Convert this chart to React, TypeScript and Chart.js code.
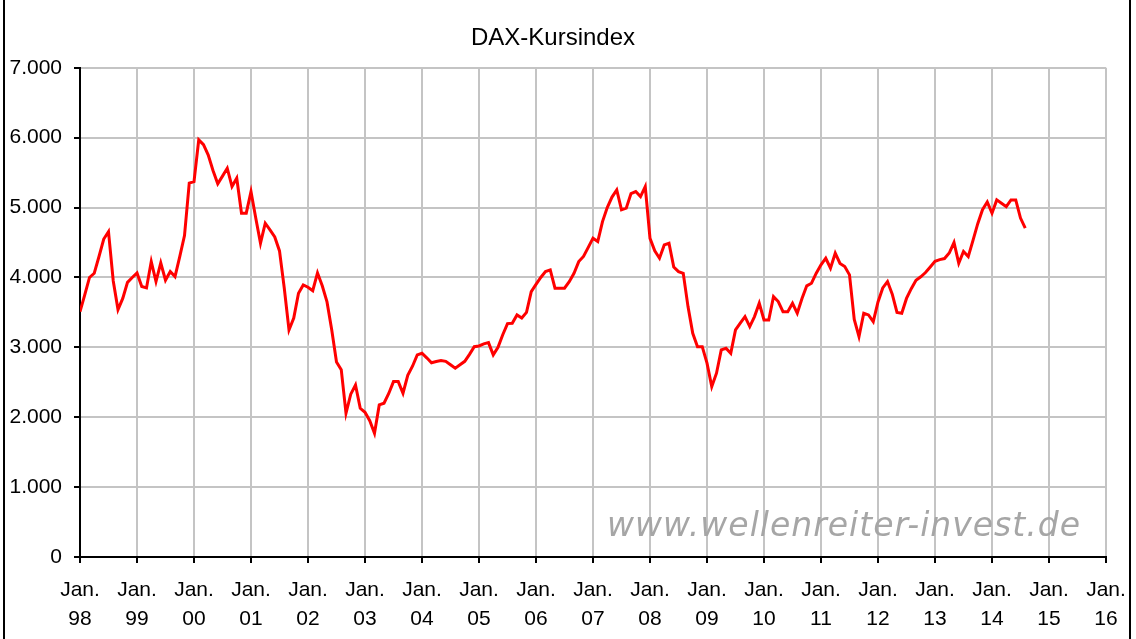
import React, { useEffect, useRef } from "react";
import { Chart, registerables } from "chart.js";

Chart.register(...registerables);

// Month index 0 = Jan. 98; values of the DAX-Kursindex (monthly)
const daxValues: number[] = [
  3510, 3750, 4000, 4060, 4300, 4550, 4656, 3950, 3540, 3700, 3930, 4000,
  4065, 3870, 3850, 4227, 3941, 4208, 3960, 4084, 4012, 4299, 4600, 5349,
  5370, 5969, 5900, 5750, 5530, 5340, 5450, 5563, 5300, 5420, 4920, 4920,
  5229, 4850, 4490, 4776, 4680, 4580, 4380, 3850, 3249, 3420, 3774, 3892,
  3860, 3810, 4065, 3880, 3650, 3249, 2790, 2680, 2057, 2330, 2462, 2128,
  2070, 1950, 1770, 2176, 2200, 2340, 2510, 2510, 2343, 2600, 2730, 2892,
  2916, 2850, 2780, 2797, 2810, 2800, 2750, 2701, 2750, 2800, 2900, 3010,
  3020, 3050, 3068, 2892, 3000, 3180, 3340, 3345, 3464, 3420, 3500, 3798,
  3900, 4000, 4084, 4108, 3846, 3846, 3846, 3940, 4060, 4227, 4300, 4430,
  4562, 4514, 4800, 5000, 5150, 5253, 4967, 4991, 5200, 5229, 5158, 5301,
  4560, 4380, 4275, 4466, 4490, 4150, 4084, 4060, 3583, 3200, 3010, 3010,
  2773, 2438, 2630, 2963, 2987, 2915, 3249, 3345, 3440, 3297, 3440, 3631,
  3392, 3392, 3726, 3655, 3511, 3511, 3631, 3488, 3700, 3880, 3917, 4061,
  4180, 4275, 4132, 4347, 4200, 4156, 4037, 3400, 3153, 3488, 3464, 3368,
  3650, 3850, 3941, 3760, 3500, 3488, 3700, 3840, 3960, 4010, 4070, 4150,
  4230, 4255, 4270, 4350, 4500, 4204, 4371, 4299, 4530, 4770, 4970, 5080,
  4920, 5110, 5063, 5014, 5110, 5110, 4850, 4705,
];

const monthLabel = "Jan.";
const yearLabels: string[] = [
  "98", "99", "00", "01", "02", "03", "04", "05", "06", "07",
  "08", "09", "10", "11", "12", "13", "14", "15", "16",
];
const yTicks: number[] = [0, 1000, 2000, 3000, 4000, 5000, 6000, 7000];

const titleText = "DAX-Kursindex";
const watermarkText = "www.wellenreiter-invest.de";

const FONT = "'Liberation Sans', Arial, sans-serif";

function fmtThousands(v: number): string {
  return String(v).replace(/\B(?=(\d{3})+(?!\d))/g, ".");
}

export default function App() {
  const canvasRef = useRef<HTMLCanvasElement | null>(null);

  useEffect(() => {
    const canvas = canvasRef.current;
    if (!canvas) return;

    const framePlugin = {
      id: "frameAndWatermark",
      beforeDatasetsDraw(chart: any) {
        const ctx = chart.ctx;
        const area = chart.chartArea;
        ctx.save();
        ctx.font = "italic 33px 'DejaVu Sans', Verdana, sans-serif";
        try {
          (ctx as any).letterSpacing = "1px";
        } catch (e) {
          /* ignore */
        }
        ctx.fillStyle = "#a6a6a6";
        ctx.textAlign = "left";
        ctx.textBaseline = "alphabetic";
        ctx.fillText(watermarkText, area.left + 527, area.bottom - 21);
        ctx.restore();
      },
      afterDraw(chart: any) {
        const ctx = chart.ctx;
        ctx.save();
        ctx.strokeStyle = "#000";
        ctx.lineWidth = 2;
        ctx.beginPath();
        ctx.moveTo(4, 0);
        ctx.lineTo(4, chart.height);
        ctx.moveTo(1130, 0);
        ctx.lineTo(1130, chart.height);
        ctx.stroke();
        ctx.restore();
      },
    };

    const chart = new Chart(canvas, {
      type: "line",
      data: {
        datasets: [
          {
            data: daxValues.map((v, i) => ({ x: i, y: v })),
            borderColor: "#ff0000",
            borderWidth: 3,
            pointRadius: 0,
            tension: 0,
            fill: false,
          },
        ],
      },
      options: {
        responsive: false,
        animation: false,
        devicePixelRatio: 1,
        layout: { padding: { left: 0, right: 30, top: 0, bottom: 0 } },
        plugins: {
          legend: { display: false },
          tooltip: { enabled: false },
          title: {
            display: true,
            text: titleText,
            color: "#000",
            font: { family: FONT, size: 24, weight: "normal", lineHeight: 1.2 },
            padding: { top: 24, bottom: 15 },
          },
        },
        scales: {
          x: {
            type: "linear",
            min: 0,
            max: (yearLabels.length - 1) * 12,
            afterFit: (s: any) => {
              s.height = 82;
              s.paddingLeft = 20;
              s.paddingRight = 20;
            },
            afterBuildTicks: (s: any) => {
              s.ticks = yearLabels.map((_, i) => ({ value: i * 12 }));
            },
            ticks: {
              autoSkip: false,
              maxRotation: 0,
              minRotation: 0,
              padding: 13,
              color: "#000",
              font: { family: FONT, size: 21, lineHeight: 1.38 },
              callback: (v: any) => [monthLabel, yearLabels[Math.round(Number(v) / 12)]],
            },
            grid: {
              color: "#c4c4c4",
              lineWidth: 2,
              tickColor: "#000",
              tickLength: 6,
              tickWidth: 2,
            },
            border: { color: "#000", width: 2 },
          },
          y: {
            min: 0,
            max: 7000,
            afterFit: (s: any) => {
              s.width = 80;
            },
            afterBuildTicks: (s: any) => {
              s.ticks = yTicks.map((v) => ({ value: v }));
            },
            ticks: {
              padding: 12,
              color: "#000",
              font: { family: FONT, size: 21 },
              callback: (v: any) => fmtThousands(Number(v)),
            },
            grid: {
              color: "#c4c4c4",
              lineWidth: 2,
              tickColor: "#000",
              tickLength: 6,
              tickWidth: 2,
            },
            border: { color: "#000", width: 2 },
          },
        },
      },
      plugins: [framePlugin],
    } as any);

    return () => chart.destroy();
  }, []);

  return (
    <div style={{ position: "absolute", left: 0, top: 0, width: 1136, height: 639, background: "#fff" }}>
      <canvas ref={canvasRef} width={1136} height={639} style={{ display: "block" }} />
    </div>
  );
}
